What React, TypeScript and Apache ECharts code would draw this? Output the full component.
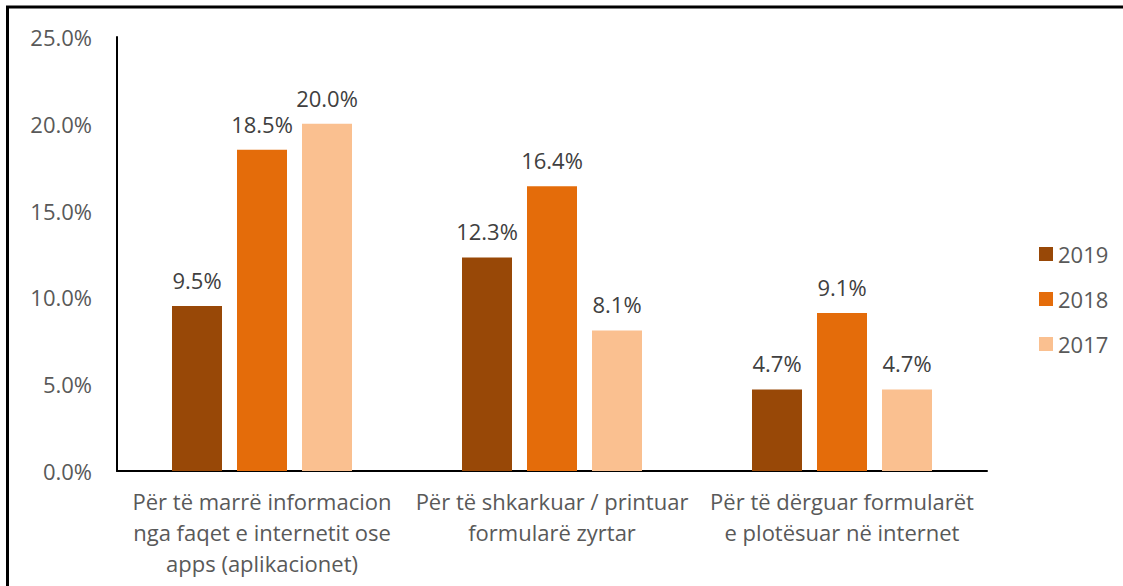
import React, { useEffect, useRef } from "react";
import * as echarts from "echarts";

const categories = [
  "Për të marrë informacion\nnga faqet e internetit ose\napps (aplikacionet)",
  "Për të shkarkuar / printuar\nformularë zyrtar",
  "Për të dërguar formularët\ne plotësuar në internet",
];
const seriesNames = ["2019", "2018", "2017"];
const values2019 = [9.5, 12.3, 4.7];
const values2018 = [18.5, 16.4, 9.1];
const values2017 = [20.0, 8.1, 4.7];
const colors = ["#984807", "#E46C0A", "#FAC090"];
const FONT = "Open Sans";

export default function App() {
  const ref = useRef<HTMLDivElement>(null);
  useEffect(() => {
    if (!ref.current) return;
    const chart = echarts.init(ref.current, null, { renderer: "svg" });
    const allValues = [values2019, values2018, values2017];
    chart.setOption({
      animation: false,
      textStyle: { fontFamily: FONT },
      grid: { left: 117, right: 136, top: 37, bottom: 115, containLabel: false },
      legend: {
        orient: "vertical",
        left: 1034,
        top: 238,
        itemWidth: 14,
        itemHeight: 14,
        itemGap: 23,
        icon: "rect",
        data: seriesNames,
        textStyle: { fontFamily: FONT, fontSize: 22, color: "#595959" },
      },
      xAxis: {
        type: "category",
        data: categories,
        axisLine: { show: true, lineStyle: { color: "#000", width: 2 } },
        axisTick: { show: false },
        axisLabel: {
          interval: 0,
          fontFamily: FONT,
          fontSize: 22,
          color: "#595959",
          lineHeight: 31,
          margin: 14,
        },
      },
      yAxis: {
        type: "value",
        min: 0,
        max: 25,
        interval: 5,
        splitLine: { show: false },
        axisTick: { show: false },
        axisLine: { show: true, lineStyle: { color: "#000", width: 2 } },
        axisLabel: {
          fontFamily: FONT,
          fontSize: 22,
          color: "#595959",
          margin: 25,
          formatter: (v: number) => v.toFixed(1) + "%",
        },
      },
      series: seriesNames.map((name, i) => ({
        name,
        type: "bar",
        data: allValues[i],
        barWidth: 50,
        barGap: "30%",
        itemStyle: { color: colors[i] },
        label: {
          show: true,
          position: "top",
          distance: 15,
          fontFamily: FONT,
          fontSize: 22,
          color: "#404040",
          formatter: (p: any) => Number(p.value).toFixed(1) + "%",
        },
      })),
      graphic: [
        { type: "line", shape: { x1: 7.5, y1: 6, x2: 7.5, y2: 586 }, style: { stroke: "#000", lineWidth: 3 } },
        { type: "line", shape: { x1: 6, y1: 7, x2: 1123, y2: 7 }, style: { stroke: "#000", lineWidth: 3 } },
      ],
    });
    return () => chart.dispose();
  }, []);
  return (
    <div
      ref={ref}
      style={{ position: "absolute", left: 0, top: 0, width: 1123, height: 586, background: "#fff" }}
    />
  );
}
